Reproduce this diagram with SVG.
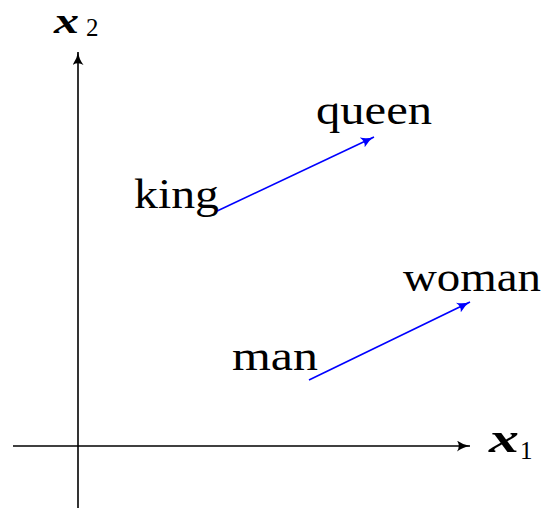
<svg xmlns="http://www.w3.org/2000/svg" width="549" height="509" viewBox="0 0 549 509">
<style>
.lbl{font-family:"Liberation Serif","Times New Roman",serif;font-size:43px;fill:#000}
.mx{font-family:"Liberation Serif","Times New Roman",serif;font-size:40px;font-weight:bold;font-style:italic;fill:#000}
.mx2{font-size:36px}
.sub{font-family:"Liberation Serif","Times New Roman",serif;font-size:25px;fill:#000}
.axis{stroke:#000;stroke-width:1.6;fill:none}
.vec{stroke:#0000ff;stroke-width:1.6;fill:none}
</style>
<defs>
<marker id="ah" viewBox="0 0 14 11" refX="13" refY="5.5" markerWidth="14" markerHeight="11" markerUnits="userSpaceOnUse" orient="auto">
<path d="M0,0 Q6,4.5 13,5.5 Q6,6.5 0,11 Q3.5,5.5 0,0 Z" fill="#000"/>
</marker>
<marker id="ahb" viewBox="0 0 14 11" refX="13" refY="5.5" markerWidth="14" markerHeight="11" markerUnits="userSpaceOnUse" orient="auto">
<path d="M0,0 Q6,4.5 13,5.5 Q6,6.5 0,11 Q3.5,5.5 0,0 Z" fill="#0000ff"/>
</marker>
</defs>
<g id="connectors">
<line class="axis" x1="13" y1="446" x2="470" y2="446" marker-end="url(#ah)"/>
<line class="axis" x1="78" y1="508" x2="78" y2="52" marker-end="url(#ah)"/>
<line class="vec" x1="215" y1="212" x2="374" y2="137" marker-end="url(#ahb)"/>
<line class="vec" x1="309" y1="380" x2="470" y2="302" marker-end="url(#ahb)"/>
</g>
<g id="x1-label">
<text class="mx" x="489" y="452" textLength="30" lengthAdjust="spacingAndGlyphs">x</text>
<text class="sub" x="520" y="459">1</text>
</g>
<g id="x2-label">
<text class="mx mx2" x="54" y="33" textLength="25" lengthAdjust="spacingAndGlyphs">x</text>
<text class="sub" x="86" y="36">2</text>
</g>
<g id="king"><text class="lbl" x="134" y="208" textLength="85" lengthAdjust="spacingAndGlyphs">king</text></g>
<g id="queen"><text class="lbl" x="316" y="124" textLength="116" lengthAdjust="spacingAndGlyphs">queen</text></g>
<g id="man"><text class="lbl" x="232" y="370" textLength="86" lengthAdjust="spacingAndGlyphs">man</text></g>
<g id="woman"><text class="lbl" x="403" y="291" textLength="138" lengthAdjust="spacingAndGlyphs">woman</text></g>
</svg>
